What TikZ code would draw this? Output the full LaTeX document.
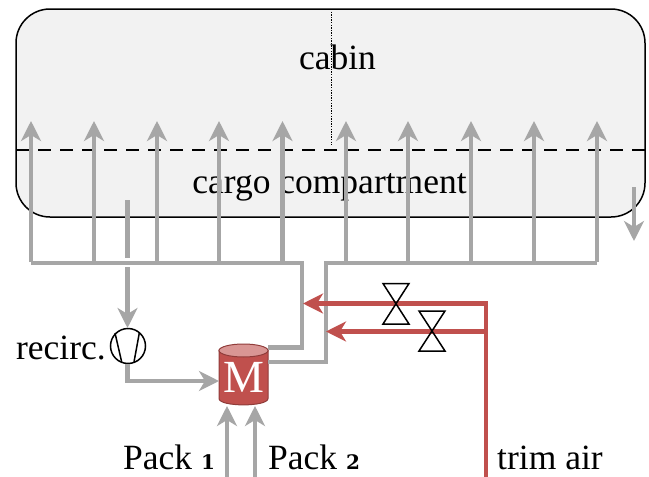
\documentclass[tikz,border=0pt]{standalone}
\usepackage{fontspec}
\setmainfont{Liberation Serif}
\newfontfamily\numfont{DejaVu Serif}
\usetikzlibrary{arrows.meta,shapes.geometric}
\definecolor{duct}{HTML}{A6A6A6}
\definecolor{trim}{HTML}{C0504D}
\definecolor{trimlight}{HTML}{D99694}
\tikzset{
  x=1pt,y=-1pt,
  lbl/.style={font=\fontsize{35.5}{36}\selectfont,inner sep=0pt},
  tip/.style={-{Stealth[length=20pt,width=20pt,inset=6pt]}},
  duct line/.style={draw=duct,line width=4.5pt},
  trim line/.style={draw=trim,line width=4.5pt},
  junction/.style={inner sep=0pt,minimum size=0pt},
  valve/.style={draw=black,line width=1.5pt,fill=none},
}
\begin{document}
\begin{tikzpicture}
\useasboundingbox (0,0) rectangle (649,477);
% compartments
\draw[fill=black!5,line width=1.5pt,rounded corners=34pt] (16,9) rectangle (645,217);
\draw[black,line width=0.8pt,dash pattern=on 1.3pt off 1.3pt] (331,9) -- (331,145);
\draw[black,line width=1.6pt,dash pattern=on 13pt off 9pt] (16,150) -- (645,150);
\node[lbl,anchor=base] (cabin) at (337.5,69) {cabin};
\node[lbl,anchor=base] (cargo) at (329.5,193) {cargo compartment};
% motor
\draw[trim!75!black,fill=trim,line width=1pt] (219,350) -- (219,398.5) .. controls (219,407) and (268,407) .. (268,398.5) -- (268,350) -- cycle;
\draw[trim!75!black,fill=trimlight,line width=1pt] (243.5,350.5) ellipse[x radius=24.5,y radius=6.5];
\node[font=\fontsize{46}{46}\selectfont,inner sep=0pt,white,anchor=base] (M) at (243.5,392) {M};
% bus left and right
\coordinate (busL) at (31,263);
\coordinate (busLE) at (302,263);
\coordinate (busR) at (597,263);
\coordinate (busRE) at (326,263);
\draw[duct line,line join=miter] (busL) -- (busLE) -- (302,347.5) -- (268,347.5);
\draw[duct line,line join=miter] (busR) -- (busRE) -- (326,362) -- (268,362);
\foreach \n/\x in {a/31,b/94,c/157,d/219,e/282.5,f/346,g/408,h/471,i/534,j/597}{
  \coordinate (base\n) at (\x,262);
  \coordinate (top\n) at (\x,121);
  \draw[duct line,tip,duct] (base\n) -- (top\n);
}
% recirc
\coordinate (rA) at (127.5,200);
\coordinate (rB) at (127.5,258);
\coordinate (rC) at (127.5,267);
\draw[duct line] (rA) -- (rB);
\node[draw=black,line width=1.5pt,circle,minimum size=35pt,inner sep=0pt] (pump) at (128,346) {};
\draw[duct line,tip,duct] (rC) -- (127.5,328);
\draw[black,line width=1.5pt] (115,333) -- (121.7,362) (139.3,333) -- (134,362);
\draw[duct line,tip,duct] (127.5,364) -- (127.5,381) -- (219,381);
\node[lbl,anchor=base east] (recirc) at (106,359) {recirc.};
% out arrow
\coordinate (outA) at (634,187);
\coordinate (outB) at (634,241);
\draw[duct line,tip,duct] (outA) -- (outB);
% packs
\coordinate (p1) at (227,477);
\coordinate (p2) at (255,477);
\draw[duct line,tip,duct] (p1) -- (227,406);
\draw[duct line,tip,duct] (p2) -- (255,406);
\node[lbl,anchor=base west] (pack1) at (123,469) {Pack {\fontsize{20}{20}\numfont\bfseries 1}};
\node[lbl,anchor=base west] (pack2) at (268,469) {Pack {\fontsize{20}{20}\numfont\bfseries 2}};
\node[lbl,anchor=base west] (trimair) at (497,469) {trim air};
% trim air
\coordinate (tB) at (486,477);
\coordinate (tJ) at (486,303.5);
\coordinate (tK) at (486,331.5);
\coordinate (tipA) at (303,303.5);
\coordinate (tipB) at (326,331.5);
\draw[trim line,trim,tip,line join=miter] (tB) -- (tJ) -- (tipA);
\draw[trim line,trim,tip] (tK) -- (tipB);
% valves
\draw[valve] (383,283.5) -- (409,283.5) -- (383,324) -- (409,324) -- cycle;
\draw[valve] (419,311) -- (445,311) -- (419,351) -- (445,351) -- cycle;
\end{tikzpicture}
\end{document}
